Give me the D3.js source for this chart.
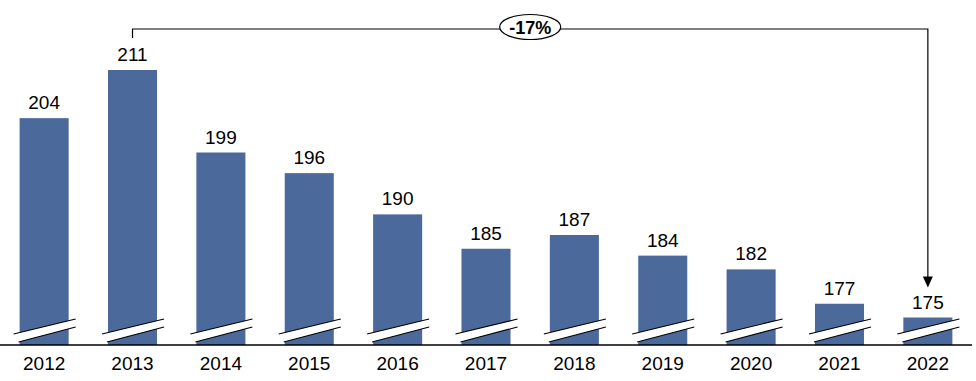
<!DOCTYPE html>
<html>
<head>
<meta charset="utf-8">
<script src="https://cdn.jsdelivr.net/npm/d3@7"></script>
<style>
  body { margin: 0; background: #fff; }
  text { font-family: "Liberation Sans", Arial, sans-serif; }
</style>
</head>
<body>
<div id="chart"></div>
<script>
// chart data
const years = ["2012", "2013", "2014", "2015", "2016", "2017", "2018", "2019", "2020", "2021", "2022"];
const values = [204, 211, 199, 196, 190, 185, 187, 184, 182, 177, 175];
const changeLabel = "-17%";

const width = 976, height = 381;
const baseY = 345;

const svg = d3.select("#chart").append("svg")
  .attr("width", width)
  .attr("height", height);

const x = d3.scaleBand()
  .domain(years)
  .range([0, 972])
  .paddingInner(0.445)
  .paddingOuter(0.222);

// axis is broken: the bars start at 171
const y = d3.scaleLinear()
  .domain([171, 211])
  .range([baseY, 70]);

// bars
svg.selectAll("rect.bar")
  .data(values)
  .enter().append("rect")
  .attr("class", "bar")
  .attr("x", (d, i) => x(years[i]))
  .attr("y", d => y(d))
  .attr("width", x.bandwidth())
  .attr("height", d => baseY - y(d))
  .attr("fill", "#4b6a9b");

// break marks across each bar
const brk = svg.selectAll("g.brk")
  .data(years)
  .enter().append("g")
  .attr("class", "brk")
  .attr("transform", d => `translate(${x(d)},0)`);

const bw = x.bandwidth();
brk.append("path")
  .attr("d", `M${-6},334 L${bw + 7},319 L${bw + 7},327 L${-1},342 Z`)
  .attr("fill", "#fff");
brk.append("line")
  .attr("x1", -6).attr("y1", 334).attr("x2", bw + 7).attr("y2", 319)
  .attr("stroke", "#000").attr("stroke-width", 1.2);
brk.append("line")
  .attr("x1", -1).attr("y1", 342).attr("x2", bw + 7).attr("y2", 327)
  .attr("stroke", "#000").attr("stroke-width", 1.2);

// value labels
svg.selectAll("text.val")
  .data(values)
  .enter().append("text")
  .attr("class", "val")
  .attr("x", (d, i) => x(years[i]) + bw / 2)
  .attr("y", d => y(d) - 9)
  .attr("text-anchor", "middle")
  .attr("font-size", 19)
  .attr("fill", "#000")
  .text(d => d);

// x axis
const xAxis = svg.append("g")
  .attr("transform", `translate(0,${baseY})`)
  .call(d3.axisBottom(x).tickSize(0).tickPadding(12));
xAxis.select(".domain").attr("d", "M0,0H972").attr("stroke", "#000").attr("stroke-width", 1.5);
xAxis.selectAll("text").attr("font-size", 19).attr("fill", "#000")
  .style("font-family", "'Liberation Sans', Arial, sans-serif");

// change bracket from first peak to last year
const x1 = x("2013") + bw / 2, x2 = x("2022") + bw / 2;
const topY = 29;
svg.append("path")
  .attr("d", `M${x1},${y(211) - 32}V${topY}H${x2}V${y(175) - 32}`)
  .attr("fill", "none")
  .attr("stroke", "#000")
  .attr("stroke-width", 1.2);
svg.append("path")
  .attr("d", `M${x2 - 5},${y(175) - 41}L${x2 + 5},${y(175) - 41}L${x2},${y(175) - 30}Z`)
  .attr("fill", "#000");

const cx = (x1 + x2) / 2;
svg.append("ellipse")
  .attr("cx", cx).attr("cy", 27)
  .attr("rx", 30.5).attr("ry", 12.5)
  .attr("fill", "#fff")
  .attr("stroke", "#000")
  .attr("stroke-width", 1.2);
svg.append("text")
  .attr("x", cx).attr("y", 33.5)
  .attr("text-anchor", "middle")
  .attr("font-size", 18)
  .attr("font-weight", "bold")
  .attr("fill", "#000")
  .text(changeLabel);
</script>
</body>
</html>
